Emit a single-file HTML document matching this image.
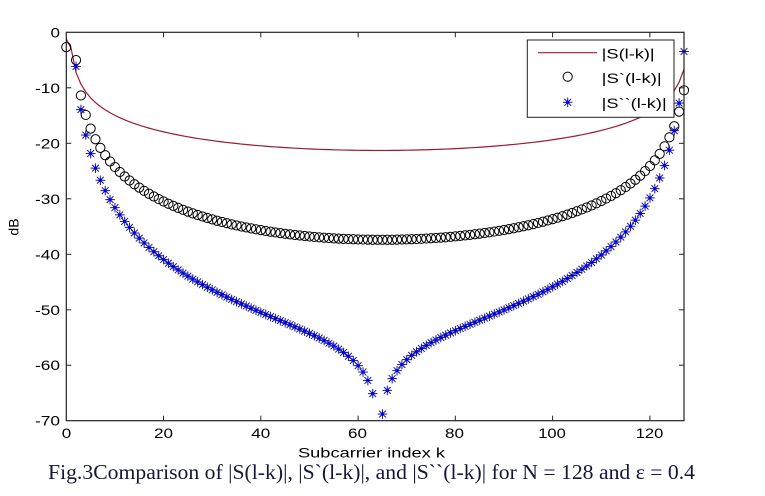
<!DOCTYPE html>
<html>
<head>
<meta charset="utf-8">
<style>
html,body{margin:0;padding:0;background:#fff;}
svg{display:block;}
text{font-family:"Liberation Sans",sans-serif;fill:#000;}
.cap{font-family:"Liberation Serif",serif;fill:#16163a;}
</style>
</head>
<body>
<svg id="s" width="765" height="496" viewBox="0 0 765 496" xmlns="http://www.w3.org/2000/svg">
<rect x="0" y="0" width="765" height="496" fill="#fff"/>
<g id="data"></g>
<!-- axes box -->
<rect x="66.3" y="32.3" width="617.7" height="388.4" fill="none" stroke="#222" stroke-width="1.2"/>
<!-- ticks -->
<g stroke="#222" stroke-width="1">
<line x1="163.5" y1="420.7" x2="163.5" y2="415.7"/><line x1="163.5" y1="32.3" x2="163.5" y2="37.3"/>
<line x1="260.8" y1="420.7" x2="260.8" y2="415.7"/><line x1="260.8" y1="32.3" x2="260.8" y2="37.3"/>
<line x1="358.1" y1="420.7" x2="358.1" y2="415.7"/><line x1="358.1" y1="32.3" x2="358.1" y2="37.3"/>
<line x1="455.3" y1="420.7" x2="455.3" y2="415.7"/><line x1="455.3" y1="32.3" x2="455.3" y2="37.3"/>
<line x1="552.6" y1="420.7" x2="552.6" y2="415.7"/><line x1="552.6" y1="32.3" x2="552.6" y2="37.3"/>
<line x1="649.9" y1="420.7" x2="649.9" y2="415.7"/><line x1="649.9" y1="32.3" x2="649.9" y2="37.3"/>
<line x1="66.3" y1="87.8" x2="71.3" y2="87.8"/><line x1="684" y1="87.8" x2="679" y2="87.8"/>
<line x1="66.3" y1="143.3" x2="71.3" y2="143.3"/><line x1="684" y1="143.3" x2="679" y2="143.3"/>
<line x1="66.3" y1="198.8" x2="71.3" y2="198.8"/><line x1="684" y1="198.8" x2="679" y2="198.8"/>
<line x1="66.3" y1="254.3" x2="71.3" y2="254.3"/><line x1="684" y1="254.3" x2="679" y2="254.3"/>
<line x1="66.3" y1="309.8" x2="71.3" y2="309.8"/><line x1="684" y1="309.8" x2="679" y2="309.8"/>
<line x1="66.3" y1="365.2" x2="71.3" y2="365.2"/><line x1="684" y1="365.2" x2="679" y2="365.2"/>
</g>
<!-- x tick labels -->
<g font-size="14" text-anchor="middle">
<text x="66.5" y="438" textLength="9.5" lengthAdjust="spacingAndGlyphs">0</text>
<text x="163.5" y="438" textLength="19" lengthAdjust="spacingAndGlyphs">20</text>
<text x="260.8" y="438" textLength="19" lengthAdjust="spacingAndGlyphs">40</text>
<text x="357.5" y="438" textLength="19" lengthAdjust="spacingAndGlyphs">60</text>
<text x="454.5" y="438" textLength="19" lengthAdjust="spacingAndGlyphs">80</text>
<text x="552" y="438" textLength="27.5" lengthAdjust="spacingAndGlyphs">100</text>
<text x="649.5" y="438" textLength="27.5" lengthAdjust="spacingAndGlyphs">120</text>
</g>
<!-- y tick labels -->
<g font-size="14" text-anchor="end">
<text x="60" y="37.3" textLength="9.5" lengthAdjust="spacingAndGlyphs">0</text>
<text x="60" y="92.8" textLength="25" lengthAdjust="spacingAndGlyphs">-10</text>
<text x="60" y="148.3" textLength="25" lengthAdjust="spacingAndGlyphs">-20</text>
<text x="60" y="203.8" textLength="25" lengthAdjust="spacingAndGlyphs">-30</text>
<text x="60" y="259.3" textLength="25" lengthAdjust="spacingAndGlyphs">-40</text>
<text x="60" y="314.8" textLength="25" lengthAdjust="spacingAndGlyphs">-50</text>
<text x="60" y="370.2" textLength="25" lengthAdjust="spacingAndGlyphs">-60</text>
<text x="60" y="425.7" textLength="25" lengthAdjust="spacingAndGlyphs">-70</text>
</g>
<!-- axis labels -->
<text x="0" y="0" font-size="14" text-anchor="middle" transform="translate(18.5,227) rotate(-90)">dB</text>
<text x="298" y="457.5" font-size="14" textLength="147" lengthAdjust="spacingAndGlyphs">Subcarrier index k</text>
<!-- legend -->
<rect x="527.3" y="40" width="146.7" height="77.3" fill="#fff" stroke="#222" stroke-width="1"/>
<line x1="538" y1="52.7" x2="597" y2="52.7" stroke="#9b1b30" stroke-width="1.2"/>
<circle cx="567.7" cy="76.7" r="4.6" fill="none" stroke="#000" stroke-width="1"/>
<g id="legstar"></g>
<g font-size="14">
<text x="601.7" y="58.5" textLength="53" lengthAdjust="spacingAndGlyphs">|S(l-k)|</text>
<text x="601.7" y="83" textLength="60" lengthAdjust="spacingAndGlyphs">|S`(l-k)|</text>
<text x="601.7" y="108" textLength="65" lengthAdjust="spacingAndGlyphs">|S``(l-k)|</text>
</g>
<!-- caption -->
<text class="cap" x="48" y="479" font-size="21" textLength="647" lengthAdjust="spacingAndGlyphs">Fig.3Comparison of |S(l-k)|, |S`(l-k)|, and |S``(l-k)| for N = 128 and ε = 0.4</text>
</svg>
<script>
(function(){
  var N=128, e=0.4, P=Math.PI;
  function S(m){
    var a=P*(m+e)/N;
    var mag=Math.sin(P*e)/(N*Math.sin(a));
    var ph=-P*m/N;
    return [mag*Math.cos(ph), mag*Math.sin(ph)];
  }
  function db(c){ return 10*Math.log(Math.sqrt(c[0]*c[0]+c[1]*c[1]))/Math.LN10; }
  function X(k){ return 66.3+k*4.8638; }
  function Y(v){ return 32.3-v*5.549; }
  function star(cx,cy){
    var s=4.8, d=3.4, o='';
    o+='<g stroke="#1a1a90" stroke-width="1">';
    o+='<line x1="'+(cx-s)+'" y1="'+cy+'" x2="'+(cx+s)+'" y2="'+cy+'"/>';
    o+='<line x1="'+cx+'" y1="'+(cy-s)+'" x2="'+cx+'" y2="'+(cy+s)+'"/>';
    o+='<line x1="'+(cx-d)+'" y1="'+(cy-d)+'" x2="'+(cx+d)+'" y2="'+(cy+d)+'"/>';
    o+='<line x1="'+(cx-d)+'" y1="'+(cy+d)+'" x2="'+(cx+d)+'" y2="'+(cy-d)+'"/>';
    o+='</g><circle cx="'+cx+'" cy="'+cy+'" r="1.7" fill="#0000ff"/>';
    return o;
  }
  var red=[], circ=[], st=[];
  for(var k=0;k<128;k++){
    var m=-k;
    var s0=S(m), sp=S(m+1), sm=S(m-1);
    red.push(db(s0));
    circ.push(db([s0[0]-sp[0], s0[1]-sp[1]]));
    st.push(db([-sm[0]+2*s0[0]-sp[0], -sm[1]+2*s0[1]-sp[1]]));
  }
  var out='';
  var pts=[];
  for(var k=0;k<128;k++){ pts.push(X(k).toFixed(2)+','+Y(red[k]).toFixed(2)); }
  out+='<polyline points="'+pts.join(' ')+'" fill="none" stroke="#9b1b30" stroke-width="1.2"/>';
  for(var k=0;k<128;k++){
    var v=circ[k];
    if(v<=0 && v>=-70){
      out+='<circle cx="'+X(k).toFixed(2)+'" cy="'+Y(v).toFixed(2)+'" r="4.6" fill="none" stroke="#000" stroke-width="1"/>';
    }
  }
  for(var k=0;k<128;k++){
    var v=st[k];
    if(v<=0 && v>=-70){
      out+=star(+X(k).toFixed(2), +Y(v).toFixed(2));
    }
  }
  document.getElementById('data').innerHTML=out;
  document.getElementById('legstar').innerHTML=star(567.7,102.3);
})();
</script>
</body>
</html>
